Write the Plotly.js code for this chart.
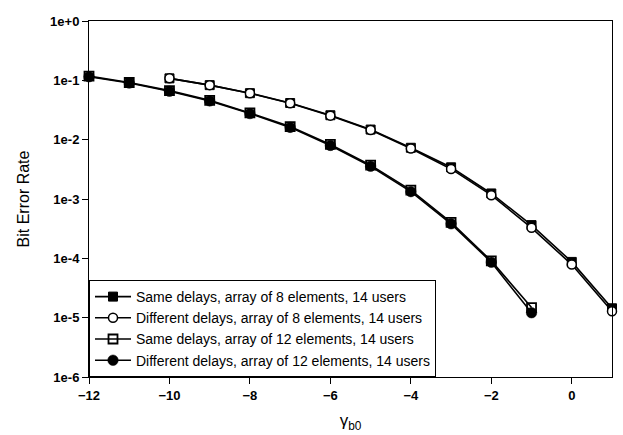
<!DOCTYPE html>
<html>
<head>
<meta charset="utf-8">
<script src="https://cdn.plot.ly/plotly-3.0.1.min.js"></script>
<style>html,body{margin:0;padding:0;background:#fff;}</style>
</head>
<body>
<div id="chart" style="width:623px;height:435px;"></div>
<script>
// x values (gamma_b0, dB)
const x8 = [-10, -9, -8, -7, -6, -5, -4, -3, -2, -1, 0, 1];
const x12 = [-12, -11, -10, -9, -8, -7, -6, -5, -4, -3, -2, -1];

// Bit error rates
const sameDelays8 = [0.108, 0.083, 0.0608, 0.0415, 0.0258, 0.0148, 0.0073, 0.00342, 0.00124, 0.000363, 0.000087, 0.0000144];
const diffDelays8 = [0.108, 0.083, 0.0605, 0.0410, 0.0254, 0.0145, 0.0071, 0.00321, 0.00116, 0.000327, 0.0000785, 0.0000128];
const sameDelays12 = [0.118, 0.092, 0.067, 0.046, 0.0282, 0.0166, 0.0083, 0.00372, 0.00141, 0.000405, 0.0000905, 0.0000148];
const diffDelays12 = [0.115, 0.090, 0.0655, 0.0450, 0.0275, 0.0161, 0.0080, 0.00357, 0.00133, 0.000382, 0.0000860, 0.0000121];

const seriesNames = [
  "Same delays, array of 8 elements, 14 users",
  "Different delays, array of 8 elements, 14 users",
  "Same delays, array of 12 elements, 14 users",
  "Different delays, array of 12 elements, 14 users"
];

const yTickVals = [1, 1e-1, 1e-2, 1e-3, 1e-4, 1e-5, 1e-6];
const yTickText = ["1e+0", "1e-1", "1e-2", "1e-3", "1e-4", "1e-5", "1e-6"];
const xTickVals = [-12, -10, -8, -6, -4, -2, 0];

const lineStyle = {color: "#000", width: 1.6};

const traces = [
  {x: x8, y: sameDelays8, name: seriesNames[0], mode: "lines+markers", line: lineStyle,
   marker: {symbol: "square", size: 9, color: "#000", line: {color: "#000", width: 1}}, cliponaxis: false},
  {x: x8, y: diffDelays8, name: seriesNames[1], mode: "lines+markers", line: lineStyle,
   marker: {symbol: "circle", size: 9, color: "#fff", line: {color: "#000", width: 1.5}}, cliponaxis: false},
  {x: x12, y: sameDelays12, name: seriesNames[2], mode: "lines+markers", line: lineStyle,
   marker: {symbol: "square-open", size: 9, color: "#000", line: {color: "#000", width: 1.8}}, cliponaxis: false},
  {x: x12, y: diffDelays12, name: seriesNames[3], mode: "lines+markers", line: lineStyle,
   marker: {symbol: "circle", size: 10.5, color: "#000", line: {color: "#000", width: 0.5}}, cliponaxis: false}
];

const layout = {
  width: 623, height: 435,
  margin: {l: 89, r: 11, t: 21, b: 58},
  paper_bgcolor: "#fff", plot_bgcolor: "#fff",
  font: {family: "Liberation Sans, Arial, sans-serif", color: "#000"},
  showlegend: true,
  legend: {
    x: 0, y: 0, xanchor: "left", yanchor: "bottom",
    bgcolor: "#fff", bordercolor: "#000", borderwidth: 1,
    font: {size: 14, family: "Liberation Sans, Arial, sans-serif", color: "#000"},
    itemwidth: 36,
    tracegroupgap: 0
  },
  xaxis: {
    range: [-12, 1],
    tickmode: "array", tickvals: xTickVals,
    ticks: "outside", ticklen: 6, tickwidth: 1, tickcolor: "#000",
    showline: true, linecolor: "#000", linewidth: 1, mirror: true,
    showgrid: false, zeroline: false,
    tickfont: {size: 13, weight: "bold"},
    title: {text: "γ<sub>b0</sub>", font: {size: 17}, standoff: 12}
  },
  yaxis: {
    type: "log",
    range: [-6, 0],
    tickmode: "array", tickvals: yTickVals, ticktext: yTickText,
    ticks: "outside", ticklen: 6, tickwidth: 1, tickcolor: "#000",
    showline: true, linecolor: "#000", linewidth: 1, mirror: true,
    showgrid: false, zeroline: false,
    tickfont: {size: 13, weight: "bold"},
    title: {text: "Bit Error Rate", font: {size: 16}, standoff: 16}
  }
};

Plotly.newPlot("chart", traces, layout, {displayModeBar: false, staticPlot: true});
</script>
</body>
</html>
